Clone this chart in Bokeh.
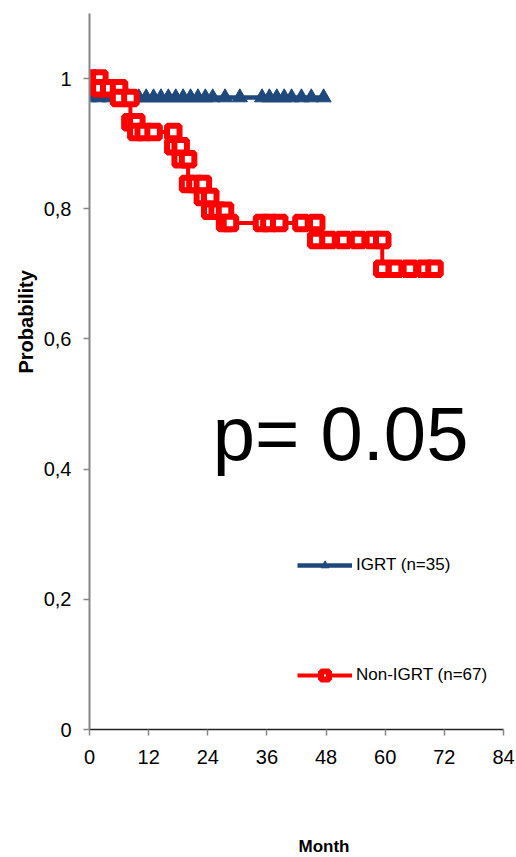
from bokeh.plotting import figure
from bokeh.models import FixedTicker, Label, Legend, LegendItem, Range1d, Title
from bokeh.embed import file_html
from bokeh.resources import INLINE

# ---- data ----
igrt_months = [0, 0, 2, 4, 6, 8, 10, 11.5, 13, 14.5, 16, 17.5, 19, 20.5, 22, 23.5, 25,
               27.5, 30.5, 35, 36.5, 38, 39.5, 41, 43, 45, 47.5]
igrt_surv = [1.0, 0.971, 0.971, 0.971, 0.971, 0.971, 0.971, 0.971, 0.971, 0.971, 0.971,
             0.971, 0.971, 0.971, 0.971, 0.971, 0.971, 0.971, 0.971, 0.971, 0.971, 0.971,
             0.971, 0.971, 0.971, 0.971, 0.971]

non_months = [0, 2, 2, 4, 6, 6, 8.3, 8.3, 9.5, 9.5, 11, 13, 17, 17, 18.5, 18.5, 20, 20,
              21.5, 23, 23, 24.5, 24.5, 26, 27.5, 27.5, 28.5, 35, 36.5, 38.5, 43, 46, 46,
              48.5, 51.5, 54.5, 57.5, 59.4, 59.4, 62, 65, 68, 70]
non_surv = [1.0, 1.0, 0.985, 0.985, 0.985, 0.970, 0.970, 0.933, 0.933, 0.918, 0.918, 0.918,
            0.918, 0.896, 0.896, 0.876, 0.876, 0.838, 0.838, 0.838, 0.818, 0.818, 0.797,
            0.797, 0.797, 0.778, 0.778, 0.778, 0.778, 0.778, 0.778, 0.778, 0.752, 0.752,
            0.752, 0.752, 0.752, 0.752, 0.708, 0.708, 0.708, 0.708, 0.708]

x_ticks = [0, 12, 24, 36, 48, 60, 72, 84]
y_ticks = [0, 0.2, 0.4, 0.6, 0.8, 1.0]
y_tick_labels = ["0", "0,2", "0,4", "0,6", "0,8", "1"]

igrt_label = "IGRT (n=35)"
non_label = "Non-IGRT (n=67)"
p_text = "p= 0.05"
x_title = "Month"
y_title = "Probability"

BLUE = "#1F497D"
RED = "#FF0000"
FONT = "Liberation Sans"

p = figure(frame_width=414, frame_height=716, output_backend="svg", toolbar_location=None,
           x_range=Range1d(0, 84), y_range=Range1d(0, 1.1),
           min_border_left=89, min_border_right=13, min_border_top=13, min_border_bottom=0)
p.outline_line_color = None
p.xgrid.visible = False
p.ygrid.visible = False
p.background_fill_color = "white"
p.border_fill_color = "white"

# axes
p.xaxis.ticker = FixedTicker(ticks=x_ticks)
p.yaxis.ticker = FixedTicker(ticks=y_ticks)
p.yaxis.major_label_overrides = {t: l for t, l in zip(y_ticks, y_tick_labels)}
for ax in (p.xaxis, p.yaxis):
    ax.major_label_text_font = FONT
    ax.major_label_text_font_size = "20px"
    ax.major_label_text_color = "black"
    ax.minor_tick_line_color = None
    ax.major_tick_in = 0
    ax.major_tick_out = 6
    ax.major_tick_line_color = "#868686"
    ax.major_tick_line_width = 1.5
p.xaxis.major_label_standoff = 14
p.yaxis.major_label_standoff = 12
p.yaxis.axis_line_color = "#868686"
p.yaxis.axis_line_width = 2
p.xaxis.axis_line_color = "#222222"
p.xaxis.axis_line_width = 1.5

# axis titles (a blank spacer title pushes "Month" to the bottom edge)
p.add_layout(Title(text=" ", standoff=46, text_font=FONT, text_font_size="17px"), "below")
p.add_layout(Title(text=x_title, align="left", offset=209, standoff=2, vertical_align="bottom",
                   text_font=FONT, text_font_size="17px", text_font_style="bold",
                   text_color="black"), "below")
p.add_layout(Title(text=y_title, align="left", offset=356, standoff=8,
                   text_font=FONT, text_font_size="20px", text_font_style="bold",
                   text_color="black"), "left")

# curves
rb_line = p.line(igrt_months, igrt_surv, line_color=BLUE, line_width=4.5)
rb_mark = p.scatter(igrt_months, igrt_surv, marker="triangle", size=15,
                    fill_color=BLUE, line_color=BLUE, line_width=1)
rr_line = p.line(non_months, non_surv, line_color=RED, line_width=4)
rr_mark = p.scatter(non_months, non_surv, marker="square", size=12.5,
                    fill_color="white", line_color=RED, line_width=6)

# legend
legend = Legend(items=[LegendItem(label=igrt_label, renderers=[rb_line, rb_mark]),
                       LegendItem(label=non_label, renderers=[rr_line, rr_mark])],
                location=(208, 44), orientation="vertical",
                glyph_width=55, glyph_height=20, spacing=90, padding=0, margin=0,
                label_standoff=4, label_text_font=FONT, label_text_font_size="17px",
                label_text_color="black",
                border_line_color=None, background_fill_alpha=0)
p.add_layout(legend)

# p-value
p.add_layout(Label(x=25.0, y=0.455, text=p_text, text_font=FONT,
                   text_font_size="76px", text_color="black", text_align="left",
                   text_baseline="alphabetic"))

open("out.html", "w").write(file_html(p, INLINE))
